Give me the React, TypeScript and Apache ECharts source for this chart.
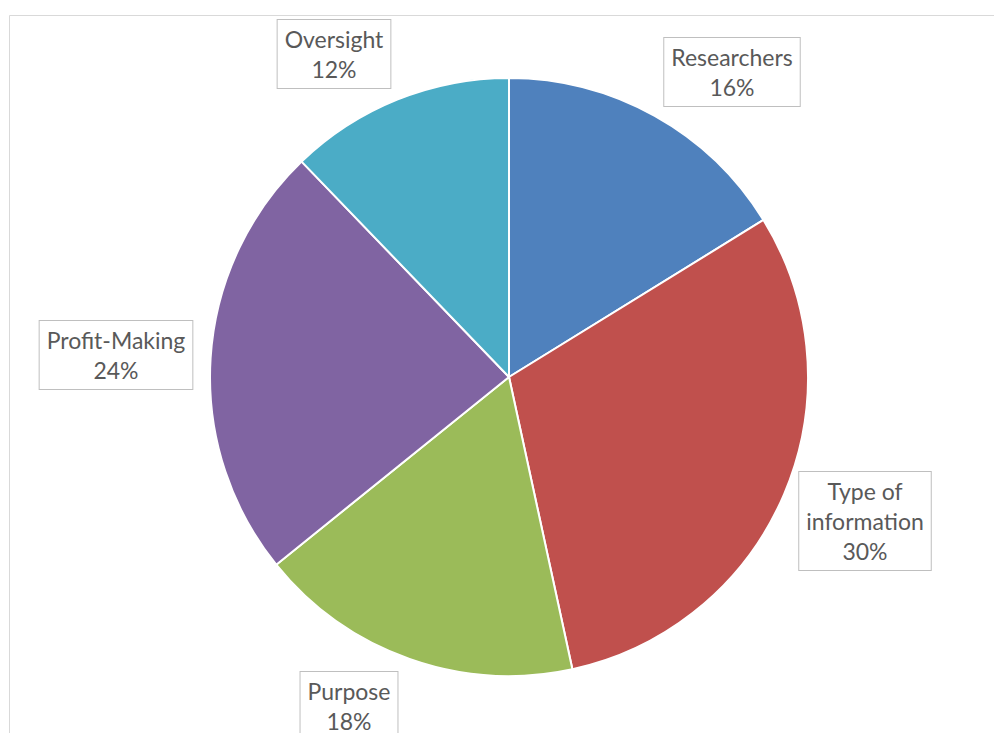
import React, { useEffect, useRef } from "react";
import * as echarts from "echarts";

const categories = ["Researchers", "Type of\ninformation", "Purpose", "Profit-Making", "Oversight"];
const values = [16.2, 30.4, 17.6, 23.6, 12.2];
const colors = ["#4F81BD", "#C0504D", "#9BBB59", "#8064A2", "#4BACC6"];
const labelAnchors = [
  [732, 72],
  [865, 521],
  [349, 706],
  [116, 355],
  [334, 54],
];

export default function App() {
  const ref = useRef<HTMLDivElement>(null);
  useEffect(() => {
    if (!ref.current) return;
    const chart = echarts.init(ref.current, undefined, { renderer: "svg" });
    chart.setOption({
      animation: false,
      graphic: [
        {
          type: "rect",
          shape: { x: 9.5, y: 15.5, width: 1100, height: 1100 },
          style: { fill: "none", stroke: "#d9d9d9", lineWidth: 1 },
          silent: true,
        },
      ],
      series: [
        {
          type: "pie",
          center: [509, 377],
          radius: [0, 299],
          startAngle: 90,
          clockwise: true,
          avoidLabelOverlap: false,
          itemStyle: { borderColor: "#ffffff", borderWidth: 2 },
          label: {
            show: true,
            position: "outside",
            formatter: (p: any) => `${p.name}\n${Math.round(p.percent)}%`,
            fontFamily: "Lato",
            fontSize: 23,
            lineHeight: 30,
            color: "#595959",
            backgroundColor: "#ffffff",
            borderColor: "#bfbfbf",
            borderWidth: 1,
            padding: [4, 7, 4, 7],
            align: "center",
          },
          labelLine: { show: false },
          labelLayout: (params: any) => {
            const a = labelAnchors[params.dataIndex];
            return { x: a[0], y: a[1], align: "center", verticalAlign: "middle" };
          },
          data: categories.map((name, i) => ({
            name,
            value: values[i],
            itemStyle: { color: colors[i] },
          })),
        },
      ],
    });
    return () => chart.dispose();
  }, []);
  return (
    <div
      ref={ref}
      style={{ position: "fixed", left: 0, top: 0, width: 994, height: 733, background: "#ffffff" }}
    />
  );
}
